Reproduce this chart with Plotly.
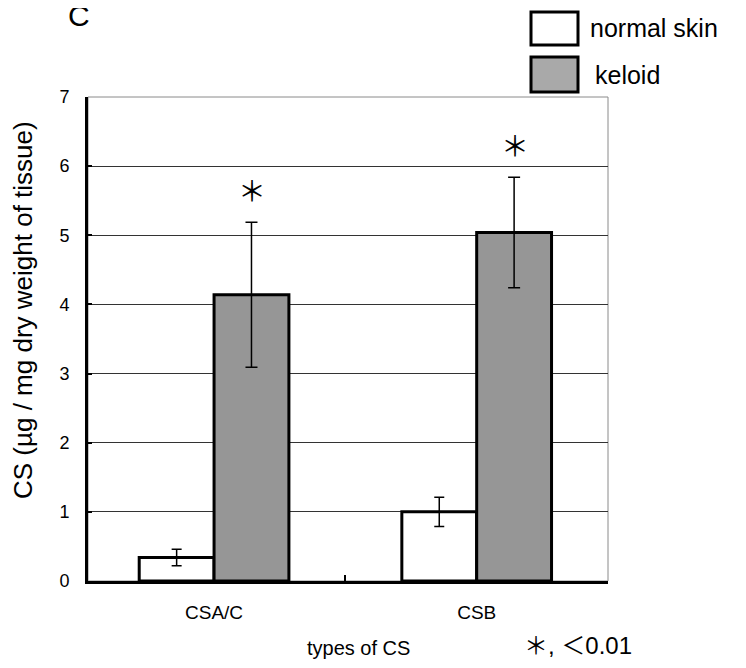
import plotly.graph_objects as go

categories = ["CSA/C", "CSB"]
series_names = ["normal skin", "keloid"]
normal_vals = [0.34, 1.00]
normal_err = [0.12, 0.21]
keloid_vals = [4.14, 5.04]
keloid_err = [1.05, 0.80]
y_ticks = [0, 1, 2, 3, 4, 5, 6, 7]

FONT = "Liberation Sans, Arial, Helvetica, sans-serif"
MIXED = "Liberation Sans, Noto Sans CJK JP, sans-serif"
CJK = "Noto Sans CJK JP, Liberation Sans, sans-serif"

fig = go.Figure()
fig.add_trace(go.Bar(
    x=categories, y=normal_vals, name=series_names[0],
    marker=dict(color="white", line=dict(color="black", width=3)),
    error_y=dict(type="data", array=normal_err, color="black", thickness=1.5, width=5),
))
fig.add_trace(go.Bar(
    x=categories, y=keloid_vals, name=series_names[1],
    marker=dict(color="#969696", line=dict(color="black", width=3)),
    error_y=dict(type="data", array=keloid_err, color="black", thickness=1.5, width=6),
))

annotations = []
# significance asterisks above keloid bars
for i, c in enumerate(categories):
    annotations.append(dict(
        x=c, y=keloid_vals[i] + keloid_err[i], xref="x", yref="y",
        text="＊", showarrow=False, font=dict(family=CJK, size=28, color="black"),
        xshift=38, yshift=32,
    ))

# page body has an 8px margin, so the figure starts at (8, 8) of the screenshot
W, H = 738, 660
L, R, T, B = 88, 608, 97, 581   # plot area in screenshot pixels
def px(x):
    return (x - L) / (R - L)
def py(y):
    return (B - y) / (B - T)

shapes = [
    dict(type="rect", xref="paper", yref="paper", x0=0, x1=1, y0=0, y1=1,
         line=dict(color="#8a8a8a", width=1), layer="below"),
    dict(type="rect", xref="paper", yref="paper", x0=px(531), x1=px(578), y0=py(45), y1=py(12),
         line=dict(color="black", width=3), fillcolor="white"),
    dict(type="rect", xref="paper", yref="paper", x0=px(531), x1=px(578), y0=py(92), y1=py(57),
         line=dict(color="black", width=3), fillcolor="#a9a9a9"),
]

annotations += [
    dict(x=px(588), y=py(28), xref="paper", yref="paper", text=series_names[0], showarrow=False,
         xanchor="left", yanchor="middle", font=dict(family=FONT, size=25, color="black")),
    dict(x=px(593), y=py(75), xref="paper", yref="paper", text=series_names[1], showarrow=False,
         xanchor="left", yanchor="middle", font=dict(family=FONT, size=25, color="black")),
    dict(x=px(23), y=py(310), xref="paper", yref="paper", text="CS (µg / mg dry weight of tissue)",
         textangle=-90, showarrow=False, xanchor="center", yanchor="middle",
         font=dict(family=FONT, size=26, color="black")),
    dict(x=px(358), y=py(648), xref="paper", yref="paper", text="types of CS", showarrow=False,
         xanchor="center", yanchor="middle", font=dict(family=FONT, size=20, color="black")),
    dict(x=px(578), y=py(645), xref="paper", yref="paper", text="＊, ＜0.01", showarrow=False,
         xanchor="center", yanchor="middle", font=dict(family=MIXED, size=24, color="black")),
    dict(x=px(79), y=py(15), xref="paper", yref="paper", text="C", showarrow=False,
         xanchor="center", yanchor="middle", font=dict(family=FONT, size=30, color="black")),
]

fig.update_layout(
    width=W, height=H,
    margin=dict(l=L - 8, r=W - (R - 8), t=T - 8, b=H - (B - 8), pad=0),
    paper_bgcolor="white", plot_bgcolor="white",
    barmode="group", bargap=0.43, bargroupgap=0,
    showlegend=False,
    shapes=shapes, annotations=annotations,
    font=dict(family=FONT, color="black"),
)
fig.update_xaxes(
    type="category", range=[-0.48, 1.5],
    showline=True, linecolor="black", linewidth=3,
    ticks="inside", tickson="boundaries", ticklen=6, tickwidth=2, tickcolor="black",
    tickfont=dict(family=FONT, size=19, color="black"),
    ticklabelstandoff=12, showgrid=False, zeroline=False,
)
fig.update_yaxes(
    range=[0, 7], tickvals=y_ticks,
    showline=True, linecolor="black", linewidth=3,
    ticks="inside", ticklen=4, tickwidth=2, tickcolor="black",
    tickfont=dict(family=FONT, size=18, color="black"),
    ticklabelstandoff=12,
    showgrid=True, gridcolor="#333333", gridwidth=1, zeroline=False,
)

fig.write_html("out.html")
